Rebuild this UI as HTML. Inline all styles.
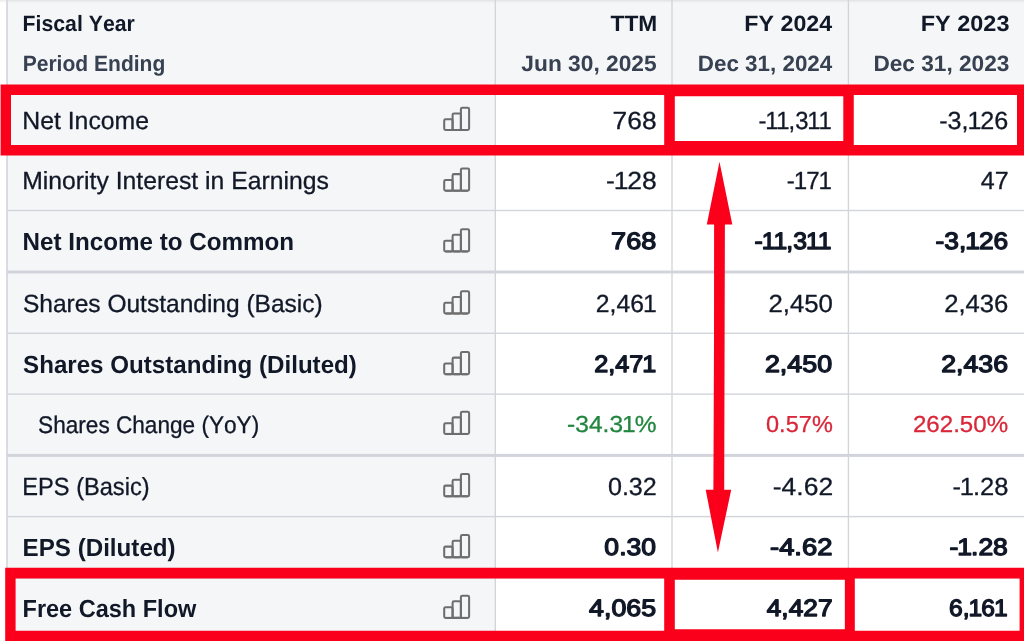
<!DOCTYPE html>
<html lang="en">
<head>
<meta charset="utf-8">
<title>Financials</title>
<style>
html,body{margin:0;padding:0;background:#fff;}
body{width:1024px;height:641px;overflow:hidden;font-family:"Liberation Sans",sans-serif;}
svg{display:block;}
text{font-family:"Liberation Sans",sans-serif;font-weight:normal;white-space:pre;text-rendering:geometricPrecision;stroke-linejoin:round;font-kerning:none;}
.hdr{font-size:22.2px;stroke-width:0px;font-weight:bold;}
.reg{font-size:24.8px;stroke-width:0.3px;}
.semi{font-size:24.8px;stroke-width:0px;font-weight:bold;}
.snum{font-size:23.7px;stroke-width:1.3px;}
.rnum{font-size:24.8px;stroke-width:0.3px;}
.smnum{font-size:23.2px;stroke-width:0.3px;}
.small{font-size:24.0px;stroke-width:0.3px;}
</style>
</head>
<body>
<svg width="1024" height="641" viewBox="0 0 1024 641">
<rect x="0" y="0" width="1024" height="641" fill="#ffffff"/>
<rect x="7" y="0" width="1017" height="89" fill="#f5f6f8"/>
<rect x="7" y="89" width="488.3" height="552" fill="#f5f6f8"/>
<rect x="0" y="0" width="1024" height="1" fill="#000000" fill-opacity="0.065"/>
<rect x="0" y="1" width="1024" height="1" fill="#000000" fill-opacity="0.035"/>
<rect x="0" y="2" width="1024" height="1" fill="#000000" fill-opacity="0.015"/>
<rect x="6.2" y="0" width="1.6" height="641" fill="#d1d5db"/>
<rect x="494.62" y="0" width="1.35" height="641" fill="#d1d5db"/>
<rect x="671.33" y="0" width="1.35" height="641" fill="#d1d5db"/>
<rect x="847.73" y="0" width="1.35" height="641" fill="#d1d5db"/>
<rect x="7" y="88.20" width="1017" height="1.40" fill="#d1d5db"/>
<rect x="7" y="149.00" width="1017" height="1.40" fill="#d1d5db"/>
<rect x="7" y="209.80" width="1017" height="1.40" fill="#d1d5db"/>
<rect x="7" y="270.50" width="1017" height="3.00" fill="#d1d5db"/>
<rect x="7" y="332.60" width="1017" height="1.40" fill="#d1d5db"/>
<rect x="7" y="393.40" width="1017" height="1.40" fill="#d1d5db"/>
<rect x="7" y="453.90" width="1017" height="3.00" fill="#d1d5db"/>
<rect x="7" y="515.90" width="1017" height="1.40" fill="#d1d5db"/>
<rect x="7" y="577.10" width="1017" height="1.40" fill="#d1d5db"/>
<g fill="none" stroke="#6e6e6e" stroke-width="2.05" stroke-linejoin="round"><path d="M445.60 130.00H467.70"/><rect x="444.20" y="119.30" width="8.40" height="10.70" rx="1.4"/><rect x="452.60" y="113.40" width="8.30" height="16.60" rx="1.4"/><rect x="460.90" y="107.75" width="8.20" height="22.25" rx="1.4"/></g>
<g fill="none" stroke="#6e6e6e" stroke-width="2.05" stroke-linejoin="round"><path d="M445.60 190.70H467.70"/><rect x="444.20" y="180.00" width="8.40" height="10.70" rx="1.4"/><rect x="452.60" y="174.10" width="8.30" height="16.60" rx="1.4"/><rect x="460.90" y="168.45" width="8.20" height="22.25" rx="1.4"/></g>
<g fill="none" stroke="#6e6e6e" stroke-width="2.05" stroke-linejoin="round"><path d="M445.60 251.40H467.70"/><rect x="444.20" y="240.70" width="8.40" height="10.70" rx="1.4"/><rect x="452.60" y="234.80" width="8.30" height="16.60" rx="1.4"/><rect x="460.90" y="229.15" width="8.20" height="22.25" rx="1.4"/></g>
<g fill="none" stroke="#6e6e6e" stroke-width="2.05" stroke-linejoin="round"><path d="M445.60 313.50H467.70"/><rect x="444.20" y="302.80" width="8.40" height="10.70" rx="1.4"/><rect x="452.60" y="296.90" width="8.30" height="16.60" rx="1.4"/><rect x="460.90" y="291.25" width="8.20" height="22.25" rx="1.4"/></g>
<g fill="none" stroke="#6e6e6e" stroke-width="2.05" stroke-linejoin="round"><path d="M445.60 374.20H467.70"/><rect x="444.20" y="363.50" width="8.40" height="10.70" rx="1.4"/><rect x="452.60" y="357.60" width="8.30" height="16.60" rx="1.4"/><rect x="460.90" y="351.95" width="8.20" height="22.25" rx="1.4"/></g>
<g fill="none" stroke="#6e6e6e" stroke-width="2.05" stroke-linejoin="round"><path d="M445.60 433.95H467.70"/><rect x="444.20" y="423.25" width="8.40" height="10.70" rx="1.4"/><rect x="452.60" y="417.35" width="8.30" height="16.60" rx="1.4"/><rect x="460.90" y="411.70" width="8.20" height="22.25" rx="1.4"/></g>
<g fill="none" stroke="#6e6e6e" stroke-width="2.05" stroke-linejoin="round"><path d="M445.60 496.30H467.70"/><rect x="444.20" y="485.60" width="8.40" height="10.70" rx="1.4"/><rect x="452.60" y="479.70" width="8.30" height="16.60" rx="1.4"/><rect x="460.90" y="474.05" width="8.20" height="22.25" rx="1.4"/></g>
<g fill="none" stroke="#6e6e6e" stroke-width="2.05" stroke-linejoin="round"><path d="M445.60 557.30H467.70"/><rect x="444.20" y="546.60" width="8.40" height="10.70" rx="1.4"/><rect x="452.60" y="540.70" width="8.30" height="16.60" rx="1.4"/><rect x="460.90" y="535.05" width="8.20" height="22.25" rx="1.4"/></g>
<g fill="none" stroke="#6e6e6e" stroke-width="2.05" stroke-linejoin="round"><path d="M445.60 617.90H467.70"/><rect x="444.20" y="607.20" width="8.40" height="10.70" rx="1.4"/><rect x="452.60" y="601.30" width="8.30" height="16.60" rx="1.4"/><rect x="460.90" y="595.65" width="8.20" height="22.25" rx="1.4"/></g>
<text class="hdr" x="22.61" y="30.90" textLength="112.19" lengthAdjust="spacingAndGlyphs" fill="#111827" stroke="#111827">Fiscal Year</text>
<text class="hdr" x="22.67" y="70.50" textLength="142.65" lengthAdjust="spacingAndGlyphs" fill="#374151" stroke="#374151">Period Ending</text>
<text class="hdr" x="610.59" y="30.90" textLength="46.70" lengthAdjust="spacingAndGlyphs" fill="#111827" stroke="#111827">TTM</text>
<text class="hdr" x="521.37" y="70.50" textLength="135.28" lengthAdjust="spacingAndGlyphs" fill="#374151" stroke="#374151">Jun 30, 2025</text>
<text class="hdr" x="744.37" y="30.90" textLength="87.77" lengthAdjust="spacingAndGlyphs" fill="#111827" stroke="#111827">FY 2024</text>
<text class="hdr" x="697.77" y="70.50" textLength="134.51" lengthAdjust="spacingAndGlyphs" fill="#374151" stroke="#374151">Dec 31, 2024</text>
<text class="hdr" x="920.80" y="30.90" textLength="88.62" lengthAdjust="spacingAndGlyphs" fill="#111827" stroke="#111827">FY 2023</text>
<text class="hdr" x="873.44" y="70.50" textLength="135.91" lengthAdjust="spacingAndGlyphs" fill="#374151" stroke="#374151">Dec 31, 2023</text>
<text class="reg" x="22.22" y="128.55" textLength="126.81" lengthAdjust="spacingAndGlyphs" fill="#111827" stroke="#111827">Net Income</text>
<text class="reg" x="22.24" y="189.25" textLength="306.59" lengthAdjust="spacingAndGlyphs" fill="#111827" stroke="#111827">Minority Interest in Earnings</text>
<text class="semi" x="22.58" y="250.10" textLength="271.38" lengthAdjust="spacingAndGlyphs" fill="#111827" stroke="#111827">Net Income to Common</text>
<text class="reg" x="22.92" y="312.05" textLength="299.84" lengthAdjust="spacingAndGlyphs" fill="#111827" stroke="#111827">Shares Outstanding (Basic)</text>
<text class="semi" x="23.05" y="372.90" textLength="333.81" lengthAdjust="spacingAndGlyphs" fill="#111827" stroke="#111827">Shares Outstanding (Diluted)</text>
<text class="small" x="38.08" y="432.50" textLength="221.11" lengthAdjust="spacingAndGlyphs" fill="#111827" stroke="#111827">Shares Change (YoY)</text>
<text class="reg" x="22.33" y="494.85" textLength="127.27" lengthAdjust="spacingAndGlyphs" fill="#111827" stroke="#111827">EPS (Basic)</text>
<text class="semi" x="22.59" y="556.00" textLength="153.07" lengthAdjust="spacingAndGlyphs" fill="#111827" stroke="#111827">EPS (Diluted)</text>
<text class="semi" x="22.53" y="616.60" textLength="173.78" lengthAdjust="spacingAndGlyphs" fill="#111827" stroke="#111827">Free Cash Flow</text>
<text class="rnum" x="576.42 590.31 604.17" y="128.55" transform="scale(1.0628 1)" fill="#111827" stroke="#111827">768</text>
<text class="rnum" x="567.47 574.69 587.44 601.23" y="189.25" transform="scale(1.0679 1)" fill="#111827" stroke="#111827">-128</text>
<text class="snum" x="534.77 548.01 561.26" y="249.45" transform="scale(1.1426 1)" fill="#111827" stroke="#111827">768</text>
<text class="rnum" x="596.77 610.59 617.49 631.31 644.02" y="312.05" transform="scale(0.9983 1)" fill="#111827" stroke="#111827">2,461</text>
<text class="snum" x="558.39 571.54 578.08 591.22 603.41" y="372.25" transform="scale(1.0642 1)" fill="#111827" stroke="#111827">2,471</text>
<text class="smnum" x="536.44 544.19 557.13 570.07 576.54 588.49 600.43" y="432.15" transform="scale(1.0571 1)" fill="#22863f" stroke="#22863f">-34.31%</text>
<text class="rnum" x="600.22 613.98 620.85 634.63" y="494.85" transform="scale(1.0129 1)" fill="#111827" stroke="#111827">0.32</text>
<text class="snum" x="541.16 554.40 561.02 574.26" y="555.35" transform="scale(1.1168 1)" fill="#111827" stroke="#111827">0.30</text>
<text class="snum" x="520.87 534.08 540.68 553.87 567.08" y="615.95" transform="scale(1.1309 1)" fill="#111827" stroke="#111827">4,065</text>
<text class="rnum" x="787.12 794.24 805.74 818.39 825.28 837.92 849.43" y="128.55" transform="scale(0.9635 1)" fill="#111827" stroke="#111827">-11,311</text>
<text class="rnum" x="809.35 816.49 829.19 841.87" y="189.25" transform="scale(0.9722 1)" fill="#111827" stroke="#111827">-171</text>
<text class="snum" x="724.25 731.20 742.47 754.70 761.30 773.54 784.81" y="249.45" transform="scale(1.0419 1)" fill="#111827" stroke="#111827">-11,311</text>
<text class="rnum" x="739.45 753.24 760.13 773.90 787.69" y="312.05" transform="scale(1.0392 1)" fill="#111827" stroke="#111827">2,450</text>
<text class="snum" x="674.84 688.03 694.62 707.80 721.00" y="372.25" transform="scale(1.1335 1)" fill="#111827" stroke="#111827">2,450</text>
<text class="smnum" x="755.96 768.93 775.43 788.39 801.35" y="432.15" transform="scale(1.0132 1)" fill="#d9283a" stroke="#d9283a">0.57%</text>
<text class="rnum" x="724.02 732.27 746.06 752.95 766.72" y="494.85" transform="scale(1.0674 1)" fill="#111827" stroke="#111827">-4.62</text>
<text class="snum" x="666.70 674.60 687.78 694.38 707.56" y="555.35" transform="scale(1.155 1)" fill="#111827" stroke="#111827">-4.62</text>
<text class="snum" x="692.33 705.53 712.13 725.33 738.53" y="615.95" transform="scale(1.1075 1)" fill="#111827" stroke="#111827">4,427</text>
<text class="rnum" x="926.02 934.28 948.06 953.86 966.55 980.33" y="128.55" transform="scale(1.0142 1)" fill="#111827" stroke="#111827">-3,126</text>
<text class="rnum" x="968.38 982.22" y="189.25" transform="scale(1.0127 1)" fill="#111827" stroke="#111827">47</text>
<text class="snum" x="843.03 850.93 864.12 869.81 882.10 895.29" y="249.45" transform="scale(1.1098 1)" fill="#111827" stroke="#111827">-3,126</text>
<text class="rnum" x="911.90 925.67 932.54 946.31 960.07" y="312.05" transform="scale(1.0354 1)" fill="#111827" stroke="#111827">2,436</text>
<text class="snum" x="835.62 848.82 855.41 868.62 881.83" y="372.25" transform="scale(1.1263 1)" fill="#111827" stroke="#111827">2,436</text>
<text class="smnum" x="878.64 891.56 904.48 917.40 923.85 936.77 949.69" y="432.15" transform="scale(1.039 1)" fill="#d9283a" stroke="#d9283a">262.50%</text>
<text class="rnum" x="926.14 933.33 946.07 952.97 966.77" y="494.85" transform="scale(1.0284 1)" fill="#111827" stroke="#111827">-1.28</text>
<text class="snum" x="849.56 856.54 868.80 875.36 888.54" y="555.35" transform="scale(1.1177 1)" fill="#111827" stroke="#111827">-1.28</text>
<text class="snum" x="915.11 928.34 933.99 946.24 958.49" y="615.95" transform="scale(1.037 1)" fill="#111827" stroke="#111827">6,161</text>
<path d="M0.60 84.40H1030.00V155.60H0.60ZM11.00 95.00H664.20V145.00H11.00ZM674.80 96.20H843.30V140.90H674.80ZM853.75 95.00H1017.00V145.00H853.75Z" fill="#fa001b" fill-rule="evenodd"/>
<path d="M5.20 567.70H1030.00V650.00H5.20ZM15.60 578.50H664.20V630.80H15.60ZM674.80 579.70H844.85V629.20H674.80ZM854.80 578.50H1019.60V630.70H854.80Z" fill="#fa001b" fill-rule="evenodd"/>
<path d="M719.5 161.7L732.3 224.6L724.9 224.6L724.6 340L724.2 489.8L731.2 489.8L717.9 552.4L705.7 489.8L713.4 489.8L714.0 340L714.1 224.6L706.8 224.6Z" fill="#fa001b"/>
</svg>
</body>
</html>
